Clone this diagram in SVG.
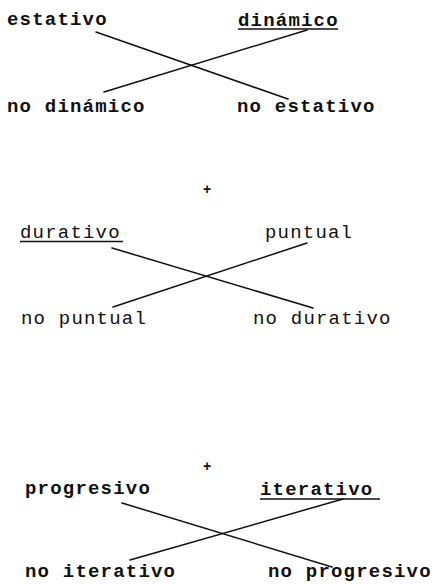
<svg xmlns="http://www.w3.org/2000/svg" width="435" height="584" viewBox="0 0 435 584">
<style>
text{font-family:"Liberation Mono","Courier New",monospace;font-size:19px;letter-spacing:1.2px;fill:#111}
.b{font-weight:bold}
.u{stroke:#111;stroke-width:1.4}
.c line{stroke:#111;stroke-width:1.5;stroke-linecap:round}
.p{font-family:"Liberation Sans",sans-serif;font-size:14px;font-weight:bold;letter-spacing:0}
</style>
<rect width="435" height="584" fill="#fff"/>
<g id="estativo"><text class="b" x="7" y="25">estativo</text></g>
<g id="dinamico"><text class="b" x="238" y="26">dinámico</text><line class="u" x1="238" y1="29" x2="338" y2="29"/></g>
<g id="no-dinamico"><text class="b" x="7" y="112">no dinámico</text></g>
<g id="no-estativo"><text class="b" x="237" y="112">no estativo</text></g>
<g id="plus1"><text class="p" x="207" y="194" text-anchor="middle">+</text></g>
<g id="durativo"><text x="20" y="238">durativo</text><line class="u" x1="20" y1="241.5" x2="123" y2="241.5"/></g>
<g id="puntual"><text x="265" y="238">puntual</text></g>
<g id="no-puntual"><text x="21" y="324">no puntual</text></g>
<g id="no-durativo"><text x="253" y="324">no durativo</text></g>
<g id="plus2"><text class="p" x="207" y="471" text-anchor="middle">+</text></g>
<g id="progresivo"><text class="b" x="25" y="494">progresivo</text></g>
<g id="iterativo"><text class="b" x="260" y="495">iterativo</text><line class="u" x1="260" y1="499" x2="380" y2="499"/></g>
<g id="no-iterativo"><text class="b" x="25" y="577">no iterativo</text></g>
<g id="no-progresivo"><text class="b" x="268" y="577">no progresivo</text></g>
<g id="connectors" class="c">
<line x1="96" y1="32" x2="288" y2="99"/>
<line x1="307" y1="30" x2="104" y2="92"/>
<line x1="112" y1="248" x2="313" y2="308"/>
<line x1="307" y1="243" x2="113" y2="307"/>
<line x1="122" y1="503" x2="332" y2="567"/>
<line x1="343" y1="499" x2="130" y2="560"/>
</g>
</svg>
